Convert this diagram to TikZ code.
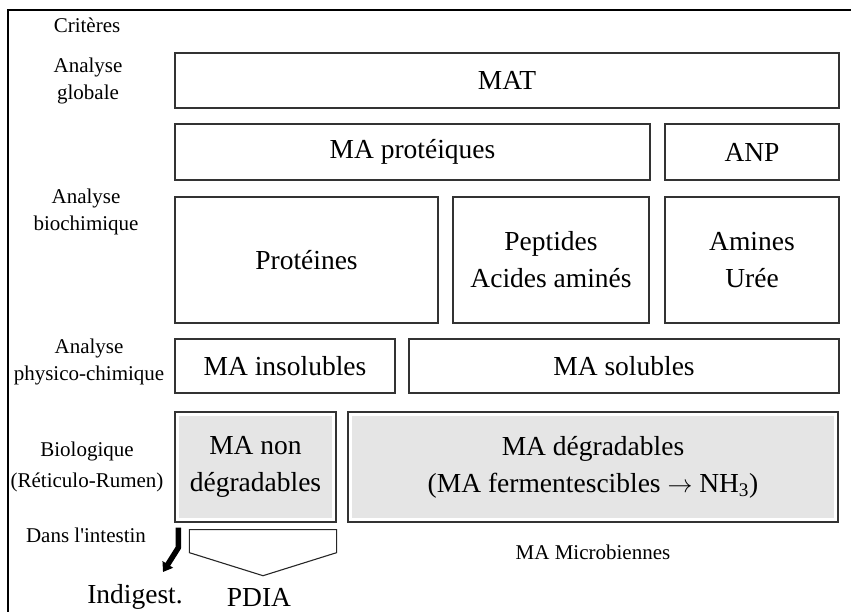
\documentclass[tikz,border=0pt]{standalone}
\usepackage{fontspec}
\setmainfont{Liberation Serif}
\usetikzlibrary{calc,positioning,arrows.meta}

\begin{document}
\begin{tikzpicture}[x=1pt,y=-1pt]
\tikzstyle{box}=[draw=black!80, line width=1.3pt, inner sep=0pt, align=center, font=\fontsize{27.5}{37}\selectfont]
\tikzstyle{gbox}=[box, path picture={\fill[gray!20] ($(path picture bounding box.north west)+(4,4)$) rectangle ($(path picture bounding box.south east)+(-4,-4)$);}]
\tikzstyle{lbl}=[align=center, inner sep=0pt, font=\fontsize{21}{27}\selectfont]
\tikzstyle{big}=[inner sep=0pt, font=\fontsize{27.5}{37}\selectfont]

\useasboundingbox (0,0) rectangle (851,611);
\draw[line width=1.3pt] (8,625) -- (8,10) -- (865,10);

% criteres
\node[lbl] (crit) at (87,25) {Critères};
\node[lbl] (glob) at (88,81) {Analyse\\globale};
\node[lbl] (bioch) at (86,212) {Analyse\\biochimique};
\node[lbl] (phys) at (89,362) {Analyse\\physico-chimique};
\node[lbl, font=\fontsize{21}{31}\selectfont] (biol) at (87,467) {Biologique\\(Réticulo-Rumen)};
\node[lbl] (intest) at (86,535) {Dans l\textquotesingle intestin};

% boites
\node[box, minimum width=664pt, minimum height=55pt] (mat) at (507,80.5) {MAT};
\node[box, minimum width=475pt, minimum height=56pt] (prot) at (412.5,152) {MA protéiques};
\node[box, minimum width=174pt, minimum height=56pt] (anp) at (752,152) {ANP};
\node[box, minimum width=263pt, minimum height=126pt] (prots) at (306.5,260) {Protéines};
\node[box, minimum width=196pt, minimum height=126pt] (pept) at (551,260) {Peptides\\Acides aminés};
\node[box, minimum width=174pt, minimum height=126pt] (amin) at (752,260) {Amines\\Urée};
\node[box, minimum width=220pt, minimum height=54pt] (insol) at (285,366) {MA insolubles};
\node[box, minimum width=430pt, minimum height=54pt] (sol) at (624,366) {MA solubles};
\node[gbox, minimum width=161pt, minimum height=110pt] (nd) at (255.5,467) {MA non\\dégradables};
\node[gbox, minimum width=490pt, minimum height=110pt] (deg) at (593,467) {MA dégradables\\(MA fermentescibles $\rightarrow$ NH\textsubscript{3})};

\node[lbl] (micro) at (593,552) {MA Microbiennes};
\node[big] (indig) at (135,597) {Indigest.};
\node[big] (pdia) at (259,597) {PDIA};

% sorties
\coordinate (tip) at (163,572);
\draw[line width=5.5pt, line join=round, -{Triangle[length=9pt,width=12pt]}] ($(nd.south west)+(4,5)$) -- ++(0,20) -- (tip);
\draw[line width=1.1pt, draw=black!85] ($(nd.south west)+(15,7)$) -- ($(nd.south east)+(0,7)$) -- ++(0,23) -- ($(pdia.north)+(4,-12)$) -- ($(nd.south west)+(15,30)$) -- cycle;
\end{tikzpicture}
\end{document}
